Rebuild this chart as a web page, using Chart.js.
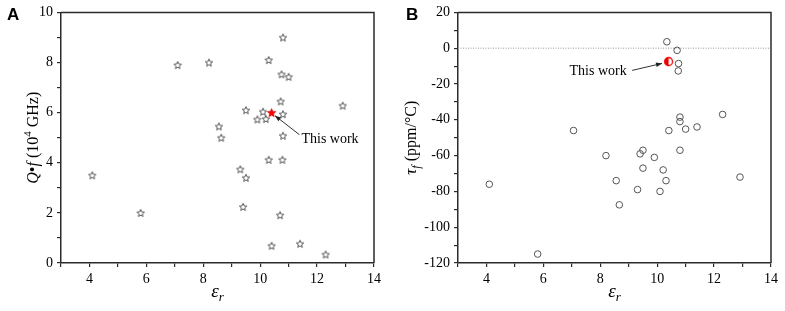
<!DOCTYPE html>
<html>
<head>
<meta charset="utf-8">
<script src="https://cdn.jsdelivr.net/npm/chart.js@4.4.1/dist/chart.umd.min.js"></script>
<style>
  html, body { margin: 0; padding: 0; background: #fff; }
  #wrap { position: relative; width: 785px; height: 311px; overflow: hidden; }
  #cA { position: absolute; left: 0; top: 0; }
  #cB { position: absolute; left: 392px; top: 0; }
</style>
</head>
<body>
<div id="wrap">
  <canvas id="cA" width="392" height="311"></canvas>
  <canvas id="cB" width="393" height="311"></canvas>
</div>
<script>
// ---------- data ----------
// Panel A: Q·f (10^4 GHz) vs εr
const qfEr  = [4.1, 5.8, 7.1, 8.2, 10.3, 10.8, 10.75, 11.0, 10.72, 9.5, 10.1, 9.9, 10.2, 10.8, 12.9, 8.55, 8.63, 10.8, 10.3, 10.78, 9.3, 9.5, 9.4, 10.7, 10.4, 11.4, 12.3];
const qfVal = [3.5, 2.0, 7.9, 8.0, 8.1, 9.0, 7.53, 7.43, 6.45, 6.1, 6.04, 5.73, 5.75, 5.94, 6.28, 5.45, 5.0, 5.08, 4.12, 4.12, 3.74, 3.4, 2.24, 1.91, 0.69, 0.77, 0.34];
// Panel B: τf (ppm/°C) vs εr
const tfEr  = [4.1, 5.8, 7.06, 8.2, 8.56, 8.67, 9.31, 9.4, 9.5, 9.5, 9.9, 10.1, 10.21, 10.31, 10.34, 10.41, 10.7, 10.74, 10.75, 10.8, 10.8, 10.8, 11.0, 11.4, 12.3, 12.91];
const tfVal = [-76, -115, -46, -60, -74, -87.5, -79, -59, -57, -67, -61, -80, -68, -74, 3.6, -46, -1.2, -12.7, -8.6, -38.5, -41, -57, -45.2, -44, -37, -72];
// This work
const thisWorkEr = [10.4];
const thisWorkQf = [6.0];
const thisWorkTf = [-7.5];
// zero reference line in panel B
const zeroLineEr = [3, 14];
const zeroLineTf = [0, 0];
// axis ranges / ticks
const erTicks = [3, 14, 1];        // min, max, step
const qfTicks = [0, 10, 1];
const tfTicks = [-120, 20, 10];

// ---------- helpers ----------
const SERIF = '"Liberation Serif", "Times New Roman", serif';
const SANS = '"Liberation Sans", Arial, sans-serif';
const AXIS = '#2b2b2b';

function pts(xs, ys) { return xs.map((x, i) => ({ x: x, y: ys[i] })); }

function starPath(g, cx, cy, ro, ri) {
  g.beginPath();
  for (let i = 0; i < 10; i++) {
    const r = i % 2 === 0 ? ro : ri;
    const a = -Math.PI / 2 + i * Math.PI / 5;
    const px = cx + r * Math.cos(a), py = cy + r * Math.sin(a);
    if (i === 0) g.moveTo(px, py); else g.lineTo(px, py);
  }
  g.closePath();
}
function starImg(size, ro, stroke, fill, lw) {
  const c = document.createElement('canvas');
  c.width = size; c.height = size;
  const g = c.getContext('2d');
  starPath(g, size / 2, size / 2 + 0.4, ro, ro * 0.45);
  if (fill) { g.fillStyle = fill; g.fill(); }
  g.lineWidth = lw; g.strokeStyle = stroke; g.lineJoin = 'round'; g.stroke();
  return c;
}
function halfCircleImg(size, r, color) {
  const c = document.createElement('canvas');
  c.width = size; c.height = size;
  const g = c.getContext('2d');
  const cx = size / 2, cy = size / 2;
  g.beginPath(); g.arc(cx, cy, r, Math.PI / 2, Math.PI * 1.5); g.closePath();
  g.fillStyle = color; g.fill();
  g.beginPath(); g.arc(cx, cy, r, 0, Math.PI * 2);
  g.lineWidth = 1.3; g.strokeStyle = color; g.stroke();
  return c;
}

// rich text: segments [{t, font, dy}]
function drawRich(ctx, segs, cx, cy, rot) {
  ctx.save();
  ctx.translate(cx, cy);
  if (rot) ctx.rotate(rot);
  ctx.textBaseline = 'alphabetic';
  ctx.fillStyle = '#000';
  let w = 0;
  segs.forEach(s => { ctx.font = s.font; w += ctx.measureText(s.t).width; });
  let x = -w / 2;
  segs.forEach(s => {
    ctx.font = s.font;
    ctx.fillText(s.t, x, (s.dy || 0) + 5);
    x += ctx.measureText(s.t).width;
  });
  ctx.restore();
}

const decorPlugin = {
  id: 'decor',
  afterDraw(chart, args, opts) {
    const ctx = chart.ctx, ca = chart.chartArea;
    const xs = chart.scales.x, ys = chart.scales.y;
    // frame (top & right)
    ctx.save();
    ctx.strokeStyle = AXIS; ctx.lineWidth = 1.5;
    ctx.beginPath();
    ctx.moveTo(ca.left, ca.top); ctx.lineTo(ca.right, ca.top); ctx.lineTo(ca.right, ca.bottom);
    ctx.stroke();
    ctx.restore();
    // panel letter
    ctx.save();
    ctx.font = 'bold 17px ' + SANS; ctx.fillStyle = '#000';
    ctx.textBaseline = 'top'; ctx.textAlign = 'left';
    ctx.fillText(opts.letter, opts.letterX, 7);
    ctx.restore();
    // axis titles
    drawRich(ctx, opts.xTitle, (ca.left + ca.right) / 2, opts.xTitleY, 0);
    drawRich(ctx, opts.yTitle, opts.yTitleX, (ca.top + ca.bottom) / 2, -Math.PI / 2);
    // annotation
    const a = opts.note;
    const tx = xs.getPixelForValue(a.textAt[0]), ty = ys.getPixelForValue(a.textAt[1]);
    ctx.save();
    ctx.font = '14px ' + SERIF; ctx.fillStyle = '#000';
    ctx.textBaseline = 'middle'; ctx.textAlign = 'left';
    ctx.fillText('This work', tx, ty);
    const x0 = xs.getPixelForValue(a.tail[0]), y0 = ys.getPixelForValue(a.tail[1]);
    const x1 = xs.getPixelForValue(a.head[0]), y1 = ys.getPixelForValue(a.head[1]);
    ctx.strokeStyle = '#333'; ctx.fillStyle = '#222'; ctx.lineWidth = 1;
    ctx.beginPath(); ctx.moveTo(x0, y0); ctx.lineTo(x1, y1); ctx.stroke();
    const ang = Math.atan2(y1 - y0, x1 - x0), L = 6, W = 2.3;
    ctx.beginPath();
    ctx.moveTo(x1, y1);
    ctx.lineTo(x1 - L * Math.cos(ang) + W * Math.sin(ang), y1 - L * Math.sin(ang) - W * Math.cos(ang));
    ctx.lineTo(x1 - L * Math.cos(ang) - W * Math.sin(ang), y1 - L * Math.sin(ang) + W * Math.cos(ang));
    ctx.closePath(); ctx.fill();
    ctx.restore();
  }
};

function axisCfg(range, labelEvery, fit, pos) {
  return {
    type: 'linear', position: pos,
    min: range[0], max: range[1],
    afterFit: fit,
    border: { display: true, color: AXIS, width: 1.5 },
    grid: { display: true, drawOnChartArea: false, drawTicks: true, tickLength: 4, color: AXIS, lineWidth: 1.2 },
    ticks: {
      stepSize: range[2], autoSkip: false, maxRotation: 0, padding: 4,
      color: '#000', font: { family: SERIF, size: 14 },
      callback: v => (Math.round(v) % labelEvery === 0 ? String(v) : '')
    },
    title: { display: false }
  };
}

const grayStar = starImg(10, 3.9, '#3c3c3c', null, 0.85);
const redStar = starImg(11, 4.4, '#e00000', '#ff0000', 0.8);
const redHalf = halfCircleImg(11, 4.0, '#ee0000');

Chart.register(decorPlugin);

new Chart(document.getElementById('cA'), {
  type: 'scatter',
  data: {
    datasets: [
      { label: 'This work', data: pts(thisWorkEr, thisWorkQf), pointStyle: redStar, order: 0 },
      { label: 'Reported', data: pts(qfEr, qfVal), pointStyle: grayStar, order: 1 }
    ]
  },
  options: {
    responsive: false, animation: false, events: [],
    layout: { padding: { left: 0, right: 18, top: 10, bottom: 0 } },
    scales: {
      x: axisCfg(erTicks, 2, s => { s.height = 48; }, 'bottom'),
      y: axisCfg(qfTicks, 2, s => { s.width = 61; }, 'left')
    },
    plugins: {
      legend: { display: false }, tooltip: { enabled: false },
      decor: {
        letter: 'A', letterX: 7,
        xTitle: [{ t: 'ε', font: 'italic 19px ' + SERIF }, { t: 'r', font: 'italic 13px ' + SERIF, dy: 4 }],
        xTitleY: 292,
        yTitle: [
          { t: 'Q', font: 'italic 16px ' + SERIF }, { t: '•', font: '16px ' + SERIF },
          { t: 'f', font: 'italic 16px ' + SERIF }, { t: ' (10', font: '16px ' + SERIF },
          { t: '4', font: '11px ' + SERIF, dy: -7 }, { t: ' GHz)', font: '16px ' + SERIF }
        ],
        yTitleX: 33,
        note: { textAt: [11.45, 4.93], tail: [11.38, 5.12], head: [10.52, 5.88] }
      }
    }
  }
});

new Chart(document.getElementById('cB'), {
  type: 'scatter',
  data: {
    datasets: [
      { label: 'This work', data: pts(thisWorkEr, thisWorkTf), pointStyle: redHalf, order: 0 },
      { label: 'Reported', data: pts(tfEr, tfVal), pointStyle: 'circle', pointRadius: 3.3,
        borderColor: '#555', backgroundColor: 'rgba(0,0,0,0)', borderWidth: 1, order: 1 },
      { label: 'zero', type: 'line', data: pts(zeroLineEr, zeroLineTf), showLine: true, pointRadius: 0,
        borderColor: '#999', borderWidth: 1, borderDash: [1, 1.5], order: 2 }
    ]
  },
  options: {
    responsive: false, animation: false, events: [],
    layout: { padding: { left: 0, right: 14, top: 11, bottom: 0 } },
    scales: {
      x: axisCfg(erTicks, 2, s => { s.height = 48; }, 'bottom'),
      y: axisCfg(tfTicks, 20, s => { s.width = 66; }, 'left')
    },
    plugins: {
      legend: { display: false }, tooltip: { enabled: false },
      decor: {
        letter: 'B', letterX: 14,
        xTitle: [{ t: 'ε', font: 'italic 19px ' + SERIF }, { t: 'r', font: 'italic 13px ' + SERIF, dy: 4 }],
        xTitleY: 292,
        yTitle: [
          { t: 'τ', font: 'italic 17px ' + SERIF }, { t: 'f', font: 'italic 12px ' + SERIF, dy: 4 },
          { t: ' (ppm/°C)', font: '16px ' + SERIF }
        ],
        yTitleX: 19,
        note: { textAt: [6.92, -12.9], tail: [9.12, -12.4], head: [10.17, -8.5] }
      }
    }
  }
});
</script>
</body>
</html>
